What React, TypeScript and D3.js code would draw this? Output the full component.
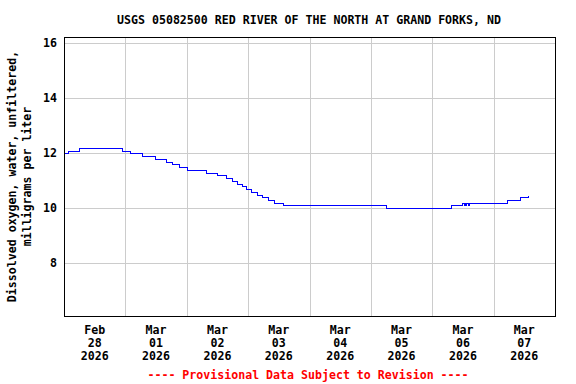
import React, { useRef, useEffect } from "react";
import * as d3 from "d3";

// 15-minute readings, only where the value changes (step series)
const readingTimes = [
  "2026-02-28T00:00", "2026-02-28T01:45", "2026-02-28T06:00", "2026-02-28T22:30",
  "2026-03-01T02:00", "2026-03-01T06:30", "2026-03-01T11:30", "2026-03-01T16:00",
  "2026-03-01T18:15", "2026-03-01T21:00", "2026-03-02T00:15", "2026-03-02T07:30",
  "2026-03-02T12:00", "2026-03-02T15:15", "2026-03-02T17:30", "2026-03-02T19:30",
  "2026-03-02T21:30", "2026-03-02T23:15", "2026-03-03T01:00", "2026-03-03T03:30",
  "2026-03-03T05:30", "2026-03-03T07:45", "2026-03-03T10:15", "2026-03-03T13:45",
  "2026-03-05T05:45", "2026-03-06T07:15", "2026-03-06T11:45", "2026-03-06T12:15",
  "2026-03-06T12:30", "2026-03-06T13:00", "2026-03-06T13:15", "2026-03-06T14:00",
  "2026-03-06T14:15", "2026-03-07T05:15", "2026-03-07T10:15", "2026-03-07T13:15",
  "2026-03-07T13:30",
];
const readingValues = [
  12.0, 12.1, 12.2, 12.1,
  12.0, 11.9, 11.8, 11.7,
  11.6, 11.5, 11.4, 11.3,
  11.2, 11.1, 11.0, 10.9,
  10.8, 10.7, 10.6, 10.5,
  10.4, 10.3, 10.2, 10.1,
  10.0, 10.1, 10.2, 10.1,
  10.2, 10.1, 10.2, 10.1,
  10.2, 10.3, 10.4, 10.5,
  10.5,
];
const yTicks = [8, 10, 12, 14, 16];
const dayTicks = [
  "2026-02-28", "2026-03-01", "2026-03-02", "2026-03-03",
  "2026-03-04", "2026-03-05", "2026-03-06", "2026-03-07",
];
const title = "USGS 05082500 RED RIVER OF THE NORTH AT GRAND FORKS, ND";
const yLabel1 = "Dissolved oxygen, water, unfiltered,";
const yLabel2 = "milligrams per liter";
const footer = "---- Provisional Data Subject to Revision ----";

const FONT = "'DejaVu Sans Mono', 'Liberation Mono', monospace";

const App = () => {
  const ref = useRef<SVGSVGElement>(null);

  const w = 576,
    h = 384,
    margin = { top: 37, right: 21, bottom: 68, left: 64 };

  useEffect(() => {
    const svg = d3.select(ref.current);
    svg.selectAll("*").remove();

    const parse = d3.timeParse("%Y-%m-%dT%H:%M");
    const parseDay = d3.timeParse("%Y-%m-%d");
    const data = readingTimes.map((t, i) => ({ date: parse(t) as Date, value: readingValues[i] }));
    const days = dayTicks.map((d) => parseDay(d) as Date);

    const x = d3
      .scaleTime()
      .domain([days[0], d3.timeDay.offset(days[days.length - 1], 1)])
      .range([margin.left, w - margin.right]);
    const y = d3
      .scaleLinear()
      .domain([6.08, 16.23])
      .range([h - margin.bottom, margin.top]);

    const grid = svg.append("g").attr("stroke", "#cccccc").attr("stroke-width", 1);
    grid
      .selectAll("line.h")
      .data(yTicks)
      .join("line")
      .attr("x1", margin.left)
      .attr("x2", w - margin.right)
      .attr("y1", (d) => Math.round(y(d)) + 0.5)
      .attr("y2", (d) => Math.round(y(d)) + 0.5);
    grid
      .selectAll("line.v")
      .data(days.slice(1))
      .join("line")
      .attr("x1", (d) => Math.round(x(d)) + 0.5)
      .attr("x2", (d) => Math.round(x(d)) + 0.5)
      .attr("y1", margin.top)
      .attr("y2", h - margin.bottom);

    const line = d3
      .line<{ date: Date; value: number }>()
      .curve(d3.curveStepAfter)
      .x((d) => Math.round(x(d.date)) + 0.5)
      .y((d) => Math.round(y(d.value)) + 0.5);

    svg
      .append("path")
      .datum(data)
      .attr("fill", "none")
      .attr("stroke", "#0000ff")
      .attr("stroke-width", 1)
      .attr("shape-rendering", "crispEdges")
      .attr("d", line);

    svg
      .append("rect")
      .attr("x", margin.left + 0.5)
      .attr("y", margin.top + 0.5)
      .attr("width", w - margin.right - margin.left)
      .attr("height", h - margin.bottom - margin.top)
      .attr("fill", "none")
      .attr("stroke", "#000");

    const text = svg
      .append("g")
      .attr("font-family", FONT)
      .attr("font-weight", "bold")
      .attr("font-size", 11.6)
      .attr("fill", "#000");

    text
      .selectAll("text.yt")
      .data(yTicks)
      .join("text")
      .attr("x", 57)
      .attr("y", (d) => y(d))
      .attr("dy", "0.35em")
      .attr("text-anchor", "end")
      .text((d) => d);

    const fmtMon = d3.timeFormat("%b");
    const fmtDay = d3.timeFormat("%d");
    const fmtYear = d3.timeFormat("%Y");
    const xl = text
      .selectAll("g.xt")
      .data(days)
      .join("g")
      .attr("transform", (d) => `translate(${x(d3.timeHour.offset(d, 12))},0)`)
      .attr("text-anchor", "middle");
    xl.append("text").attr("y", 334).text((d) => fmtMon(d));
    xl.append("text").attr("y", 347).text((d) => fmtDay(d));
    xl.append("text").attr("y", 359.5).text((d) => fmtYear(d));

    text
      .append("text")
      .attr("x", 309)
      .attr("y", 24)
      .attr("text-anchor", "middle")
      .text(title);

    text
      .append("text")
      .attr("transform", `translate(16,${(margin.top + h - margin.bottom) / 2}) rotate(-90)`)
      .attr("text-anchor", "middle")
      .text(yLabel1);
    text
      .append("text")
      .attr("transform", `translate(31,${(margin.top + h - margin.bottom) / 2}) rotate(-90)`)
      .attr("text-anchor", "middle")
      .text(yLabel2);

    text
      .append("text")
      .attr("x", 308)
      .attr("y", 379)
      .attr("text-anchor", "middle")
      .attr("fill", "#ff0000")
      .text(footer);
  }, []);

  return (
    <svg
      ref={ref}
      width={w}
      height={h}
      style={{ position: "absolute", left: 0, top: 0, background: "#fff" }}
    ></svg>
  );
};

export default App;
